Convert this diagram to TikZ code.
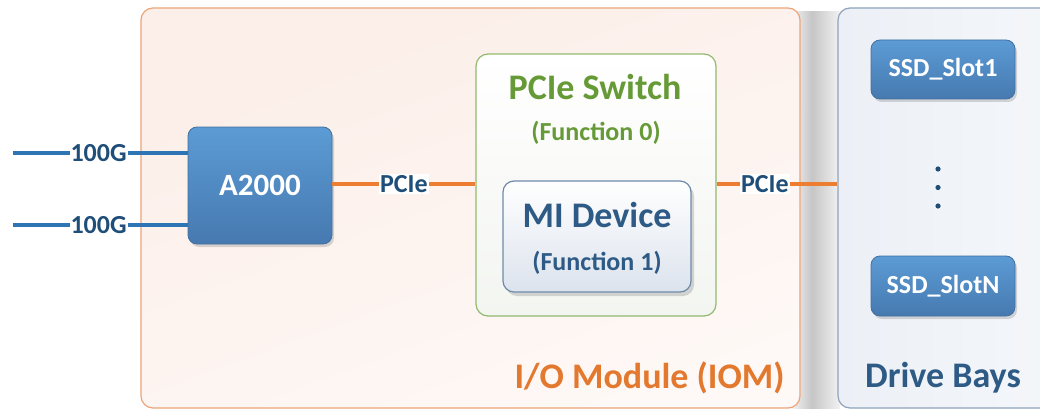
\documentclass[tikz,border=0pt]{standalone}
\usepackage{fontspec}
\setmainfont{Carlito}
\usetikzlibrary{shadows,calc}
\definecolor{iomborder}{HTML}{EBA57A}
\definecolor{iomfill}{HTML}{FCEEE8}
\definecolor{orangeline}{HTML}{ED7D31}
\definecolor{orangetext}{HTML}{E2792F}
\definecolor{blueline}{HTML}{2E75B6}
\definecolor{darkblue}{HTML}{1F4E79}
\definecolor{boxtop}{HTML}{5C9BD5}
\definecolor{boxbot}{HTML}{4679B0}
\definecolor{boxborder}{HTML}{41709F}
\definecolor{greenborder}{HTML}{92BA6E}
\definecolor{greentext}{HTML}{659A36}
\definecolor{swfill}{HTML}{F3F5F1}
\definecolor{miborder}{HTML}{6E8AAB}
\definecolor{mifill}{HTML}{DCE3ED}
\definecolor{mitext}{HTML}{2E5A86}
\definecolor{bayborder}{HTML}{8FA3BC}
\definecolor{bayfill}{HTML}{ECF0F6}
\tikzset{
  bluebox/.style={draw=boxborder, line width=0.8pt, rounded corners=9pt, top color=boxtop, bottom color=boxbot,
    text=white, font=\bfseries, drop shadow={opacity=0.3, shadow xshift=2pt, shadow yshift=-3pt}},
  blueline/.style={draw=blueline, line width=3.2pt},
  orangeline/.style={draw=orangeline, line width=3.2pt},
  linelabel/.style={fill=white, inner sep=1pt, text=darkblue, font=\bfseries\fontsize{26}{28}\selectfont},
}
\begin{document}
\begin{tikzpicture}[x=1pt,y=-1pt]
\useasboundingbox (0,0) rectangle (1040,409);
\clip (0,0) rectangle (1040,409);
\fill[white] (0,0) rectangle (1040,409);
% shadow between modules
\shade[left color=white, right color=gray!45] (786,12) rectangle (812,409);
\shade[left color=gray!45, right color=gray!10] (812,12) rectangle (840,409);
% IOM
\node[draw=iomborder, line width=1.2pt, rounded corners=12pt, minimum width=659pt, minimum height=400pt,
  top color=iomfill, bottom color=iomfill!40, shading angle=20, inner sep=0pt] (iom) at (470.5,208) {};
\node[text=orangetext, font=\bfseries\fontsize{36}{38}\selectfont, anchor=east] (iomlabel) at (788,378) {I/O Module (IOM)};
% Drive bays
\node[draw=bayborder, line width=1.2pt, rounded corners=12pt, minimum width=260pt, minimum height=400pt,
  left color=bayfill, right color=bayfill!50, inner sep=0pt] (bays) at (968,208) {};
\node[text=mitext, font=\bfseries\fontsize{36}{38}\selectfont] (bayslabel) at (943,378) {Drive Bays};
% A2000
\node[bluebox, minimum width=144pt, minimum height=117pt, font=\bfseries\fontsize{31}{33}\selectfont] (a2000) at (260,185.5) {A2000};
% PCIe switch
\node[draw=greenborder, line width=1.2pt, rounded corners=12pt, minimum width=240pt, minimum height=262pt,
  top color=white, bottom color=swfill, inner sep=0pt] (sw) at (596,185) {};
\node[text=greentext, font=\bfseries\fontsize{36}{38}\selectfont] (swtitle) at (595,87) {PCIe Switch};
\node[text=greentext, font=\bfseries\fontsize{26}{28}\selectfont] (swfunc) at (596,133) {(Function 0)};
% MI device
\node[draw=miborder, line width=1.2pt, rounded corners=11pt, minimum width=188pt, minimum height=111pt,
  top color=white, bottom color=mifill, inner sep=0pt,
  drop shadow={opacity=0.3, shadow xshift=3pt, shadow yshift=-4pt}] (mi) at (597,236.5) {};
\node[text=mitext, font=\bfseries\fontsize{36}{38}\selectfont] (mititle) at (597,215) {MI Device};
\node[text=mitext, font=\bfseries\fontsize{26}{28}\selectfont] (mifunc) at (597,263) {(Function 1)};
% SSD slots
\node[bluebox, minimum width=144pt, minimum height=59pt, font=\bfseries\fontsize{26}{28}\selectfont] (ssd1) at (943,69.5) {SSD\_Slot1};
\node[bluebox, minimum width=144pt, minimum height=60pt, font=\bfseries\fontsize{26}{28}\selectfont] (ssdn) at (943,286) {SSD\_SlotN};
\fill[darkblue] (938,169) circle (2.6pt) (938,187.5) circle (2.6pt) (938,206) circle (2.6pt);
% 100G links
\coordinate (in1) at (13,153);
\coordinate (in2) at (13,225);
\draw[blueline] (in1) -- (in1 -| a2000.west) node[linelabel, pos=0.49] (l1) {100G};
\draw[blueline] (in2) -- (in2 -| a2000.west) node[linelabel, pos=0.49] (l2) {100G};
% PCIe links
\draw[orangeline] (a2000.east |- 0,184) -- (sw.west |- 0,184) node[linelabel, pos=0.5] (p1) {PCIe};
\draw[orangeline] (sw.east |- 0,184) -- (bays.west |- 0,184) node[linelabel, pos=0.4] (p2) {PCIe};
\end{tikzpicture}
\end{document}
